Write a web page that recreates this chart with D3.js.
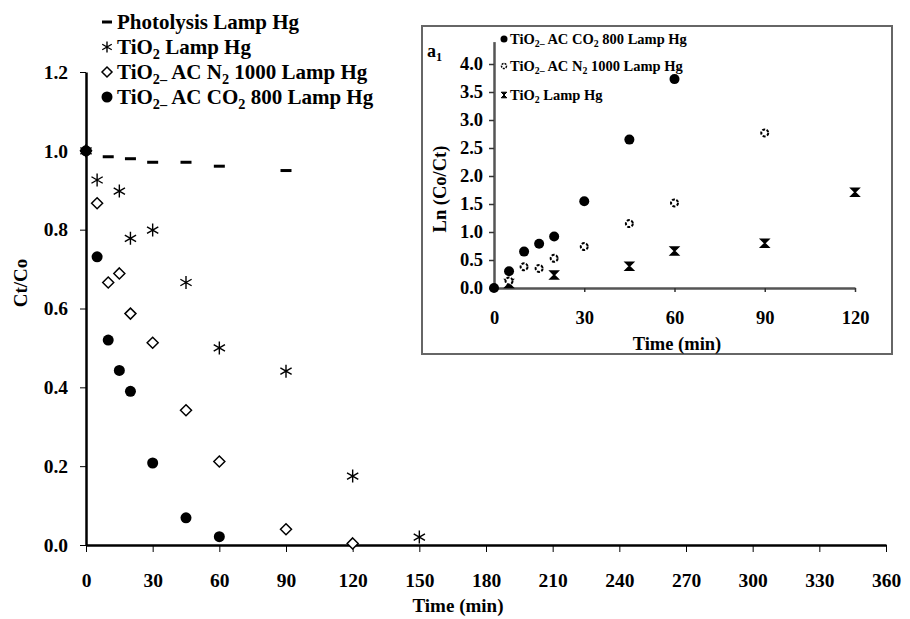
<!DOCTYPE html>
<html>
<head>
<meta charset="utf-8">
<script src="https://d3js.org/d3.v7.min.js"></script>
<style>
  body { margin: 0; background: white; }
  text { font-family: "Liberation Serif", "Times New Roman", serif; font-weight: bold; }
</style>
</head>
<body>
<script>
  // ---- main plot data (Ct/Co vs time) ----
  const photoT = [0, 10, 20, 30, 45, 60, 90];
  const photoV = [1.0, 0.985, 0.98, 0.971, 0.971, 0.961, 0.95];
  const tio2T = [0, 5, 15, 20, 30, 45, 60, 90, 120, 150];
  const tio2V = [1.0, 0.926, 0.898, 0.778, 0.799, 0.666, 0.50, 0.441, 0.175, 0.02];
  const n2T = [0, 5, 10, 15, 20, 30, 45, 60, 90, 120];
  const n2V = [1.0, 0.867, 0.666, 0.689, 0.587, 0.513, 0.342, 0.212, 0.04, 0.004];
  const co2T = [0, 5, 10, 15, 20, 30, 45, 60];
  const co2V = [1.0, 0.731, 0.52, 0.443, 0.39, 0.208, 0.069, 0.021];
  const mainXTicks = d3.range(0, 361, 30);
  const mainYTicks = [0, 0.2, 0.4, 0.6, 0.8, 1.0, 1.2];

  // ---- inset data (Ln(Co/Ct) vs time) ----
  const lnCo2T = [0, 5, 10, 15, 20, 30, 45, 60];
  const lnCo2V = [0, 0.30, 0.65, 0.79, 0.92, 1.55, 2.65, 3.73];
  const lnN2T = [5, 10, 15, 20, 30, 45, 60, 90];
  const lnN2V = [0.125, 0.38, 0.35, 0.53, 0.74, 1.15, 1.52, 2.77];
  const lnTiT = [5, 20, 45, 60, 90, 120];
  const lnTiV = [0.08, 0.23, 0.39, 0.66, 0.80, 1.71];
  const insetXTicks = [0, 30, 60, 90, 120];
  const insetYTicks = [0, 0.5, 1.0, 1.5, 2.0, 2.5, 3.0, 3.5, 4.0];

  const zip = (t, v) => t.map((d, i) => ({ t: d, v: v[i] }));

  const svg = d3.select("body").append("svg")
    .attr("width", 910)
    .attr("height", 619);

  // text with subscripts: parts = [[str, isSub], ...]
  function richText(g, parts, size) {
    parts.forEach(([s, sub], i) => {
      const prevSub = i > 0 && parts[i - 1][1];
      let dy = 0;
      if (sub && !prevSub) dy = size * 0.22;
      if (!sub && prevSub) dy = -size * 0.22;
      g.append("tspan")
        .attr("dy", dy)
        .attr("font-size", sub ? size * 0.68 : size)
        .text(s);
    });
  }

  // marker paths
  function asterisk(s) {
    const a = s * Math.cos(Math.PI / 6), b = s * 0.5;
    return `M0,${-s}L0,${s}M${-a},${-b}L${a},${b}M${-a},${b}L${a},${-b}`;
  }
  function diamond(s) {
    return `M0,${-s}L${s},0L0,${s}L${-s},0Z`;
  }
  function hourglass(s) {
    return `M${-s},${-s}L${s},${-s}L${-s},${s}L${s},${s}Z`;
  }

  // ================= main chart =================
  const x = d3.scaleLinear().domain([0, 360]).range([86, 886]);
  const y = d3.scaleLinear().domain([0, 1.2]).range([545, 72]);

  const xAxis = svg.append("g")
    .attr("transform", "translate(0,545)")
    .call(d3.axisBottom(x).tickValues(mainXTicks).tickSize(7).tickSizeOuter(0).tickPadding(21));
  const yAxis = svg.append("g")
    .attr("transform", "translate(86,0)")
    .call(d3.axisLeft(y).tickValues(mainYTicks).tickFormat(d3.format(".1f")).tickSize(6).tickSizeOuter(0).tickPadding(12));
  [xAxis, yAxis].forEach(a => {
    a.select(".domain").attr("stroke", "#000").attr("stroke-width", 2.5);
    a.selectAll(".tick line").attr("stroke", "#000").attr("stroke-width", 1);
    a.selectAll(".tick text").attr("fill", "#000").attr("font-size", 19.5)
      .attr("font-family", "Liberation Serif").attr("font-weight", "bold");
  });

  svg.append("text")
    .attr("x", 458).attr("y", 612)
    .attr("text-anchor", "middle").attr("font-size", 19)
    .text("Time (min)");
  svg.append("text")
    .attr("transform", "translate(27,283) rotate(-90)")
    .attr("text-anchor", "middle").attr("font-size", 19)
    .text("Ct/Co");

  // photolysis dashes
  svg.append("g").selectAll("line").data(zip(photoT, photoV)).join("line")
    .attr("x1", d => x(d.t) - 5.5).attr("x2", d => x(d.t) + 5.5)
    .attr("y1", d => y(d.v)).attr("y2", d => y(d.v))
    .attr("stroke", "#000").attr("stroke-width", 3);
  // N2 diamonds
  svg.append("g").selectAll("path").data(zip(n2T, n2V)).join("path")
    .attr("transform", d => `translate(${x(d.t)},${y(d.v)})`)
    .attr("d", diamond(5.5))
    .attr("fill", "white").attr("stroke", "#000").attr("stroke-width", 1.5);
  // TiO2 asterisks
  svg.append("g").selectAll("path").data(zip(tio2T, tio2V)).join("path")
    .attr("transform", d => `translate(${x(d.t)},${y(d.v)})`)
    .attr("d", asterisk(6.5))
    .attr("fill", "none").attr("stroke", "#000").attr("stroke-width", 1.4);
  // CO2 filled circles
  svg.append("g").selectAll("circle").data(zip(co2T, co2V)).join("circle")
    .attr("cx", d => x(d.t)).attr("cy", d => y(d.v)).attr("r", 5.5)
    .attr("fill", "#000");

  // main legend
  const legendRows = [
    { mark: "dash", parts: [["Photolysis Lamp Hg", false]] },
    { mark: "ast", parts: [["TiO", false], ["2", true], [" Lamp Hg", false]] },
    { mark: "dia", parts: [["TiO", false], ["2–", true], [" AC N", false], ["2", true], [" 1000 Lamp Hg", false]] },
    { mark: "dot", parts: [["TiO", false], ["2–", true], [" AC CO", false], ["2", true], [" 800 Lamp Hg", false]] }
  ];
  const leg = svg.append("g");
  legendRows.forEach((r, i) => {
    const cy = 22 + i * 25;
    const g = leg.append("g").attr("transform", `translate(107,${cy})`);
    if (r.mark === "dash") g.append("line").attr("x1", -5).attr("x2", 5).attr("stroke", "#000").attr("stroke-width", 3);
    if (r.mark === "ast") g.append("path").attr("d", asterisk(5.5)).attr("fill", "none").attr("stroke", "#000").attr("stroke-width", 1.4);
    if (r.mark === "dia") g.append("path").attr("d", diamond(5)).attr("fill", "white").attr("stroke", "#000").attr("stroke-width", 1.5);
    if (r.mark === "dot") g.append("circle").attr("r", 5.5).attr("fill", "#000");
    const t = leg.append("text").attr("x", 117).attr("y", cy + 7).attr("font-size", 21);
    richText(t, r.parts, 21);
  });

  // ================= inset =================
  const inset = svg.append("g");
  inset.append("rect")
    .attr("x", 422).attr("y", 26).attr("width", 470).attr("height", 328)
    .attr("fill", "white").attr("stroke", "#666").attr("stroke-width", 2);

  const xi = d3.scaleLinear().domain([0, 120]).range([494, 855]);
  const yi = d3.scaleLinear().domain([0, 4.4]).range([288, 41.6]);

  const xiAxis = inset.append("g")
    .attr("transform", "translate(0,288)")
    .call(d3.axisBottom(xi).tickValues(insetXTicks).tickSize(4).tickSizeOuter(0).tickPadding(19));
  const yiAxis = inset.append("g")
    .attr("transform", "translate(494,0)")
    .call(d3.axisLeft(yi).tickValues(insetYTicks).tickFormat(d3.format(".1f")).tickSize(5).tickSizeOuter(0).tickPadding(6));
  [xiAxis, yiAxis].forEach(a => {
    a.select(".domain").attr("stroke", "#555").attr("stroke-width", 2.5);
    a.selectAll(".tick line").attr("stroke", "#333").attr("stroke-width", 1.5);
    a.selectAll(".tick text").attr("fill", "#000").attr("font-size", 18.5)
      .attr("font-family", "Liberation Serif").attr("font-weight", "bold");
  });

  inset.append("text")
    .attr("x", 677).attr("y", 350)
    .attr("text-anchor", "middle").attr("font-size", 18.5)
    .text("Time (min)");
  inset.append("text")
    .attr("transform", "translate(446,189) rotate(-90)")
    .attr("text-anchor", "middle").attr("font-size", 18.5)
    .text("Ln (Co/Ct)");
  const a1 = inset.append("text").attr("x", 427).attr("y", 57).attr("font-size", 18);
  richText(a1, [["a", false], ["1", true]], 18);

  // inset points
  inset.append("g").selectAll("path").data(zip(lnTiT, lnTiV)).join("path")
    .attr("transform", d => `translate(${xi(d.t)},${yi(d.v)})`)
    .attr("d", hourglass(4))
    .attr("fill", "#000").attr("stroke", "#000").attr("stroke-width", 1.5);
  inset.append("g").selectAll("circle").data(zip(lnN2T, lnN2V)).join("circle")
    .attr("cx", d => xi(d.t)).attr("cy", d => yi(d.v)).attr("r", 3.5)
    .attr("fill", "white").attr("stroke", "#000").attr("stroke-width", 2)
    .attr("stroke-dasharray", "3,1.5");
  inset.append("g").selectAll("circle").data(zip(lnCo2T, lnCo2V)).join("circle")
    .attr("cx", d => xi(d.t)).attr("cy", d => yi(d.v)).attr("r", 5)
    .attr("fill", "#000");

  // inset legend
  const insetRows = [
    { mark: "dot", cy: 39, parts: [["TiO", false], ["2–", true], [" AC CO", false], ["2", true], [" 800 Lamp Hg", false]] },
    { mark: "ring", cy: 66, parts: [["TiO", false], ["2–", true], [" AC N", false], ["2", true], [" 1000 Lamp Hg", false]] },
    { mark: "hour", cy: 95, parts: [["TiO", false], ["2", true], [" Lamp Hg", false]] }
  ];
  insetRows.forEach(r => {
    const g = inset.append("g").attr("transform", `translate(504,${r.cy})`);
    if (r.mark === "dot") g.append("circle").attr("r", 3.5).attr("fill", "#000");
    if (r.mark === "ring") g.append("circle").attr("r", 2.5).attr("fill", "white").attr("stroke", "#000").attr("stroke-width", 1.5).attr("stroke-dasharray", "2,1");
    if (r.mark === "hour") g.append("path").attr("d", hourglass(2.8)).attr("fill", "#000").attr("stroke", "#000").attr("stroke-width", 1);
    const t = inset.append("text").attr("x", 510).attr("y", r.cy + 5).attr("font-size", 14.5);
    richText(t, r.parts, 14.5);
  });
</script>
</body>
</html>
